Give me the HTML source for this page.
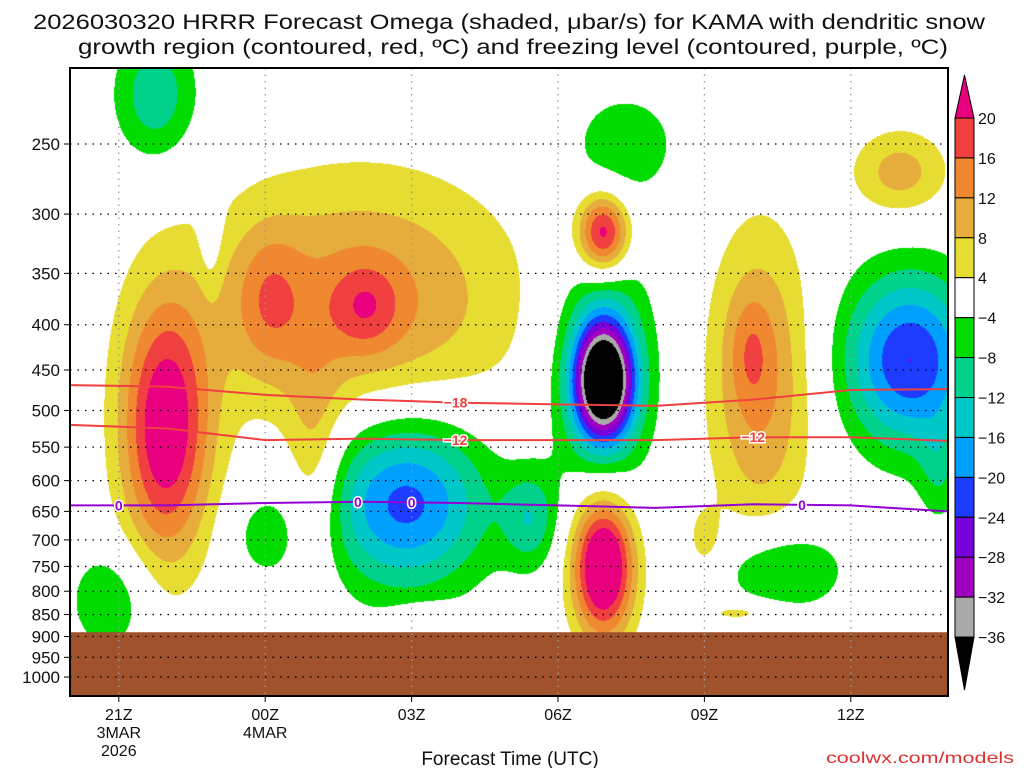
<!DOCTYPE html>
<html><head><meta charset="utf-8"><style>
html,body{margin:0;padding:0;background:#fff;width:1024px;height:768px;overflow:hidden}
#cv{position:absolute;left:70px;top:68px}
#sv{position:absolute;left:0;top:0}
text{font-family:"Liberation Sans","DejaVu Sans",sans-serif}
</style></head><body>
<canvas id="cv" width="878" height="628"></canvas>
<svg id="sv" width="1024" height="768"></svg>
<script>
// ---- data ----
const blobHour=[21.95,25.94,24.06,26.05,25.0,30.92,30.92,34.14,33.93,33.0,37.0,33.73,27.38,21.74,22.87,20.82,26.86,24.0,29.43,30.92,31.37,37.2,37.8,34.55,30.92];
const blobPres=[526,375,375,381,584,315,747,462,427,700,269,844,848,220,297,818,631,691,662,462,250,438,584,757,450];
const blobAmp=[24,13,8,8,8,24,30,13,5,6,10,6,5.5,-11,-7,-8,-22,-6,-10,-40,-7,-24,-6,-10,-15];
const blobSigH=[0.65,2.25,0.5,0.5,0.4,0.37,0.45,0.75,0.3,0.25,0.7,0.6,0.5,0.6,0.15,0.6,1.2,0.5,0.4,0.4,0.8,0.95,0.3,0.9,0.7];
const blobSigL=[0.24,0.234,0.13,0.08,0.2,0.073,0.13,0.28,0.1,0.06,0.08,0.02,0.02,0.12,0.12,0.1,0.16,0.08,0.09,0.1,0.1,0.16,0.1,0.08,0.22];
const levels=[-36,-32,-28,-24,-20,-16,-12,-8,-4,4,8,12,16,20];
const levelColors=["#000000","#aaaaaa","#a000c0","#7800dc","#1e3cff","#00a0ff","#00c8c8","#00d28c","#00dc00","#ffffff","#e6dc32","#e6ac3c","#f08830","#f04040","#e8007f"];
const lineHours=[20,22,24,26,28,30,32,34,36,38];
const isoM18=[468,470,480,486,490,492,494,486,474,473];
const isoM12=[519,524,540,538,540,540,540,536,536,541];
const iso0=[640,640,636,634,636,640,644,638,640,650];
const presTicks=[250,300,350,400,450,500,550,600,650,700,750,800,850,900,950,1000];
const hourTicks=[21,24,27,30,33,36];
const hourLabels=[["21Z","3MAR","2026"],["00Z","4MAR"],["03Z"],["06Z"],["09Z"],["12Z"]];
const cbLabels=["20","16","12","8","4","\u22124","\u22128","\u221212","\u221216","\u221220","\u221224","\u221228","\u221232","\u221236"];
const terrainPres=890;
// ---- axes ----
const X=h=>70+(h-20)*48.8;
const Y=p=>144+384.5*Math.log(p/250);
const Hinv=x=>20+(x-70)/48.8;
const Linv=y=>Math.log(250)+(y-144)/384.5;
// ---- shading ----
const cv=document.getElementById('cv'),ctx=cv.getContext('2d');
const img=ctx.createImageData(878,628);
const rgb=levelColors.map(c=>[parseInt(c.slice(1,3),16),parseInt(c.slice(3,5),16),parseInt(c.slice(5,7),16)]);
const bl=blobPres.map(p=>Math.log(p));
for(let j=0;j<628;j++){const L=Linv(68+j);for(let i=0;i<878;i++){const H=Hinv(70+i);let v=0;
for(let k=0;k<blobAmp.length;k++){const dh=(H-blobHour[k])/blobSigH[k],dl=(L-bl[k])/blobSigL[k];const r=dh*dh+dl*dl;if(r<30)v+=blobAmp[k]*Math.exp(-r/2);}
let idx=0;while(idx<levels.length&&v>=levels[idx])idx++;const c=rgb[idx],o=(j*878+i)*4;img.data[o]=c[0];img.data[o+1]=c[1];img.data[o+2]=c[2];img.data[o+3]=255;}}
ctx.putImageData(img,0,0);
// ---- svg ----
const NS="http://www.w3.org/2000/svg",sv=document.getElementById('sv');
function el(t,a,p){const e=document.createElementNS(NS,t);for(const k in a)e.setAttribute(k,a[k]);(p||sv).appendChild(e);return e;}
function txt(s,a,p){const e=el('text',a,p);e.textContent=s;return e;}
// terrain
let tr=el('rect',{x:70,y:Y(terrainPres),width:878,height:696-Y(terrainPres),fill:"#a0522d"});


// grid
presTicks.forEach(p=>{let g=el('line',{x1:70,x2:948,y1:Y(p),y2:Y(p),stroke:"#000","stroke-width":1.3,"stroke-dasharray":"1.5 6"});


el('line',{x1:64,x2:70,y1:Y(p),y2:Y(p),stroke:"#000"});
let t=txt(String(p),{x:60,y:Y(p)+6,"text-anchor":"end","font-size":17,fill:"#111"});

});
hourTicks.forEach((h,i)=>{let g=el('line',{x1:X(h),x2:X(h),y1:68,y2:696,stroke:"#999","stroke-width":1.3,"stroke-dasharray":"1.5 5"});


el('line',{x1:X(h),x2:X(h),y1:696,y2:702,stroke:"#000"});
hourLabels[i].forEach((s,k)=>{let t=txt(s,{x:X(h),y:720+k*18,"text-anchor":"middle","font-size":16,fill:"#111"});

});});
// isolines
function iso(arr,color,name,labs){let d=arr.map((p,i)=>(i?'L':'M')+X(lineHours[i])+','+Y(p)).join(' ');
let l=el('path',{d:d,fill:"none",stroke:color,"stroke-width":2});


labs.forEach(([h,s])=>{let i=0;while(i<lineHours.length-2&&lineHours[i+1]<h)i++;const f=(h-lineHours[i])/(lineHours[i+1]-lineHours[i]);const p=arr[i]+(arr[i+1]-arr[i])*f;
let t=txt(s,{x:X(h),y:Y(p)+5,"text-anchor":"middle","font-size":14,"font-weight":"bold",fill:color,stroke:"#fff","stroke-width":3,"paint-order":"stroke"});

});}
iso(isoM18,"#f04040","isotherm-minus18",[[27.9,"\u221218"]]);
iso(isoM12,"#f04040","isotherm-minus12",[[27.9,"\u221212"],[34.0,"\u221212"]]);
iso(iso0,"#9400d3","freezing-level",[[21,"0"],[25.9,"0"],[27.0,"0"],[35.0,"0"]]);
// frame
let fr=el('rect',{x:70,y:68,width:878,height:628,fill:"none",stroke:"#000","stroke-width":2});


// colorbar
const cbTop=118,cbStep=39.93,cbx=955,cbw=19;
let cbg=el('g',{});


el('polygon',{points:`${cbx},${cbTop} ${cbx+cbw},${cbTop} ${cbx+cbw/2},75`,fill:levelColors[14],stroke:"#000"},cbg);
for(let i=0;i<13;i++){el('rect',{x:cbx,y:cbTop+i*cbStep,width:cbw,height:cbStep,fill:levelColors[13-i],stroke:"#000"},cbg);}
const cbBot=cbTop+13*cbStep;
el('polygon',{points:`${cbx},${cbBot} ${cbx+cbw},${cbBot} ${cbx+cbw/2},690`,fill:"#000",stroke:"#000"},cbg);
cbLabels.forEach((s,i)=>{let t=txt(s,{x:978,y:cbTop+i*cbStep+6,"font-size":16,fill:"#111"},cbg);

});
// titles
let t1=txt("2026030320 HRRR Forecast Omega (shaded, \u03bcbar/s) for KAMA with dendritic snow",{x:33,y:29,"font-size":21,textLength:952,lengthAdjust:"spacingAndGlyphs",fill:"#111"});


let t2=txt("growth region (contoured, red, \u00baC) and freezing level (contoured, purple, \u00baC)",{x:78,y:54,"font-size":21,textLength:870,lengthAdjust:"spacingAndGlyphs",fill:"#111"});


let xt=txt("Forecast Time (UTC)",{x:510,y:765,"text-anchor":"middle","font-size":19,fill:"#111"});


let cr=txt("coolwx.com/models",{x:826,y:763,"font-size":16,textLength:188,lengthAdjust:"spacingAndGlyphs",fill:"#e03030"});


</script>
</body></html>
